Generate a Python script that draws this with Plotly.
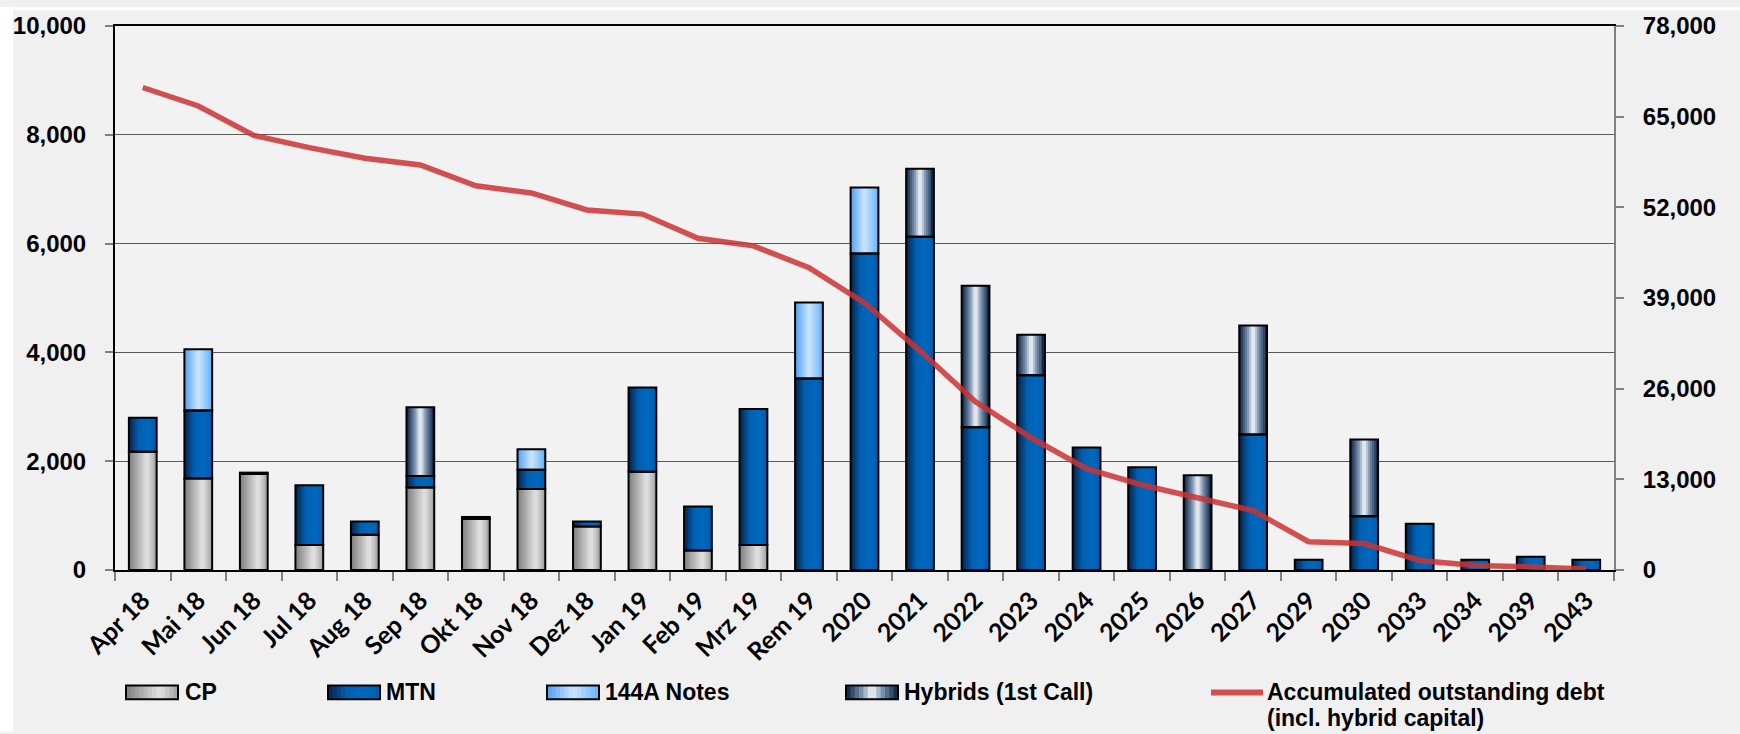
import plotly.graph_objects as go
import numpy as np

# ---------------- data ----------------
categories = ["Apr 18", "Mai 18", "Jun 18", "Jul 18", "Aug 18", "Sep 18", "Okt 18",
              "Nov 18", "Dez 18", "Jan 19", "Feb 19", "Mrz 19", "Rem 19", "2020",
              "2021", "2022", "2023", "2024", "2025", "2026", "2027", "2029", "2030",
              "2033", "2034", "2039", "2043"]
cp = [2175, 1680, 1765, 460, 650, 1515, 940, 1490, 800, 1805, 360, 460, 0, 0,
      0, 0, 0, 0, 0, 0, 0, 0, 0, 0, 0, 0, 0]
mtn = [625, 1250, 25, 1100, 240, 215, 35, 355, 90, 1550, 805, 2500, 3520, 5820,
       6125, 2625, 3580, 2250, 1890, 0, 2490, 190, 990, 850, 190, 245, 190]
notes_144a = [0, 1130, 0, 0, 0, 0, 0, 375, 0, 0, 0, 0, 1395, 1210,
              0, 0, 0, 0, 0, 0, 0, 0, 0, 0, 0, 0, 0]
hybrids = [0, 0, 0, 0, 0, 1260, 0, 0, 0, 0, 0, 0, 0, 0,
           1250, 2600, 745, 0, 0, 1740, 2005, 0, 1410, 0, 0, 0, 0]
debt = [69180, 66530, 62300, 60560, 59050, 58070, 55090, 54060, 51630, 51030,
        47560, 46480, 43340, 38300, 31430, 24110, 18960, 14530, 12190, 10300,
        8510, 4060, 3800, 1365, 650, 440, 160]

series_names = ["CP", "MTN", "144A Notes", "Hybrids (1st Call)"]
series_vals = [cp, mtn, notes_144a, hybrids]
line_name_1 = "Accumulated outstanding debt"
line_name_2 = "(incl. hybrid capital)"

left_ticks = [0, 2000, 4000, 6000, 8000, 10000]
right_ticks = [0, 13000, 26000, 39000, 52000, 65000, 78000]

# ---------------- styles ----------------
gradients = {
    "CP": [(0.0, (125, 125, 125)), (0.65, (228, 228, 228)), (1.0, (160, 160, 160))],
    "MTN": [(0.0, (8, 32, 70)), (0.35, (0, 96, 178)), (0.7, (0, 104, 190)), (1.0, (0, 92, 172))],
    "144A Notes": [(0.0, (80, 160, 240)), (0.5, (205, 230, 255)), (1.0, (100, 178, 250))],
    "Hybrids (1st Call)": [(0.0, (6, 28, 60)), (0.3, (120, 145, 175)), (0.5, (245, 248, 252)),
                           (0.7, (120, 145, 175)), (1.0, (6, 28, 60))],
}
LINE_COLOR = "rgba(204,50,50,0.85)"
BG = "#F0F0F0"
TICK_FONT = dict(family="Liberation Sans, Arial, sans-serif", size=24, color="black", weight=700)
X_FONT = dict(family="Lato, Open Sans, sans-serif", size=25, color="black", weight=700)
LEG_FONT = dict(family="Liberation Sans, Arial, sans-serif", size=23, color="black", weight=700)


def grad_color(stops, t):
    for (t0, c0), (t1, c1) in zip(stops[:-1], stops[1:]):
        if t0 <= t <= t1:
            f = (t - t0) / (t1 - t0) if t1 > t0 else 0
            c = [round(a + (b - a) * f) for a, b in zip(c0, c1)]
            return "rgb(%d,%d,%d)" % tuple(c)
    return "rgb(%d,%d,%d)" % stops[-1][1]


BAR_W = 0.5
N_STRIPS = 14
fig = go.Figure()

base = np.zeros(len(categories))
bases = []
for vals in series_vals:
    bases.append(base.copy())
    base = base + np.array(vals, dtype=float)

# gradient strips (each strip overlaps the next one to avoid seams)
sw = BAR_W / N_STRIPS
for name, vals, b in zip(series_names, series_vals, bases):
    y = [v if v > 0 else None for v in vals]
    for i in range(N_STRIPS):
        t = (i + 0.5) / N_STRIPS
        w = 2 * sw if i < N_STRIPS - 1 else sw
        fig.add_trace(go.Bar(
            x=categories, y=y, base=list(b), width=w,
            offset=-BAR_W / 2 + i * sw,
            marker=dict(color=grad_color(gradients[name], t), line=dict(width=0)),
            showlegend=False, hoverinfo="skip", yaxis="y"))
# outlines
for name, vals, b in zip(series_names, series_vals, bases):
    y = [v if v > 0 else None for v in vals]
    fig.add_trace(go.Bar(
        x=categories, y=y, base=list(b), width=BAR_W, offset=-BAR_W / 2, name=name,
        marker=dict(color="rgba(0,0,0,0)", line=dict(color="black", width=2)),
        showlegend=False, yaxis="y"))

fig.add_trace(go.Scatter(x=categories, y=debt, mode="lines", name=line_name_1 + " " + line_name_2,
                         line=dict(color=LINE_COLOR, width=5.5), yaxis="y2", showlegend=False))

# ---------------- layout geometry ----------------
W_FIG, H_FIG = 1740, 734
L, R, T, B = 115, 1614, 19, 570
PW, PH = R - L, B - T


def px(xp):
    return (xp - L) / PW


def py(yp):
    return (B - yp) / PH


shapes = []
shapes.append(dict(type="rect", xref="paper", yref="paper", x0=px(0), x1=px(13), y0=py(734), y1=py(0),
                   fillcolor="white", line=dict(width=0), layer="below"))
shapes.append(dict(type="rect", xref="paper", yref="paper", x0=px(0), x1=px(1740), y0=py(3), y1=py(0),
                   fillcolor="white", line=dict(width=0), layer="below"))

annotations = []
legend_items = [("CP", 126, 184), ("MTN", 328, 385), ("144A Notes", 547, 604), ("Hybrids (1st Call)", 846, 903)]
SW_W, SW_T, SW_B = 52, 687, 701
for name, x0, tx in legend_items:
    n = 12
    for i in range(n):
        t = (i + 0.5) / n
        shapes.append(dict(type="rect", xref="paper", yref="paper",
                           x0=px(x0 + SW_W * i / n), x1=px(x0 + SW_W * (i + 1) / n + 1),
                           y0=py(SW_B), y1=py(SW_T), fillcolor=grad_color(gradients[name], t),
                           line=dict(width=0)))
    shapes.append(dict(type="rect", xref="paper", yref="paper", x0=px(x0), x1=px(x0 + SW_W),
                       y0=py(SW_B), y1=py(SW_T), line=dict(color="black", width=2)))
    annotations.append(dict(xref="paper", yref="paper", x=px(tx), y=py(694), text=name,
                            showarrow=False, xanchor="left", yanchor="middle", font=LEG_FONT,
                            borderpad=0))
shapes.append(dict(type="line", xref="paper", yref="paper", x0=px(1211), x1=px(1263), y0=py(694), y1=py(694),
                   line=dict(color=LINE_COLOR, width=6)))
annotations.append(dict(xref="paper", yref="paper", x=px(1266), y=py(694), text=line_name_1,
                        showarrow=False, xanchor="left", yanchor="middle", font=LEG_FONT, borderpad=0))
annotations.append(dict(xref="paper", yref="paper", x=px(1266), y=py(720), text=line_name_2,
                        showarrow=False, xanchor="left", yanchor="middle", font=LEG_FONT, borderpad=0))

fig.update_layout(
    width=W_FIG, height=H_FIG,
    margin=dict(l=L, r=W_FIG - R, t=T, b=H_FIG - B, pad=0),
    paper_bgcolor=BG, plot_bgcolor="#F2F2F2",
    barmode="overlay", bargap=0.5,
    showlegend=False,
    shapes=shapes, annotations=annotations,
    xaxis=dict(type="category", categoryorder="array", categoryarray=categories,
               tickangle=-45, tickfont=X_FONT, showline=True, linecolor="black", linewidth=2,
               mirror=True, ticks="outside", tickson="boundaries", ticklen=9, tickcolor="#808080",
               tickwidth=2, showgrid=False, range=[-0.5, len(categories) - 0.5],
               ticklabelstandoff=4),
    yaxis=dict(range=[0, 10000], tickvals=left_ticks, tickformat=",", tickfont=TICK_FONT,
               showline=True, linecolor="black", linewidth=2, ticks="outside", ticklen=8,
               tickcolor="#808080", tickwidth=2, showgrid=True, gridcolor="#5a5a5a", gridwidth=1,
               zeroline=False, ticklabelstandoff=14),
    yaxis2=dict(range=[0, 78000], tickvals=right_ticks, tickformat=",", tickfont=TICK_FONT,
                overlaying="y", side="right", showline=True, linecolor="#808080", linewidth=2,
                ticks="outside", ticklen=8, tickcolor="#808080", tickwidth=2, showgrid=False,
                zeroline=False, ticklabelstandoff=14),
)

fig.write_html("out.html", config={"displayModeBar": False},
               post_script="document.body.style.margin='0';document.body.style.overflow='hidden';")
